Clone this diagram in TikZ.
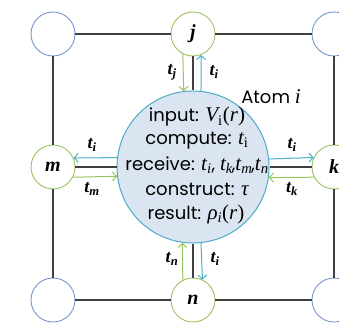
\documentclass[tikz,border=0pt]{standalone}
\usepackage{fontspec}
\setmainfont{Liberation Serif}
\newfontfamily\tms{Liberation Serif}
\newfontfamily\gothic{Poppins}
\usetikzlibrary{arrows.meta}
\definecolor{cornerblue}{RGB}{120,150,205}
\definecolor{nbgreen}{RGB}{155,195,95}
\definecolor{tealc}{RGB}{75,172,198}
\definecolor{bigfill}{RGB}{219,229,241}
\definecolor{gridc}{RGB}{64,64,64}
\newcommand\tvsz{\fontsize{21}{21}\selectfont}
\newcommand\sv[2]{{\tms\tvsz\itshape #1}{\tms\tvsz\textsubscript{#2}}}
\newcommand\svi[2]{{\tms\itshape #1}{\tms\textsubscript{\itshape #2}}}
\newcommand\tsvi[2]{{\tms\tvsz\itshape #1\textsubscript{#2}}}
\newcommand\iv[1]{{\tms\tvsz\itshape #1}}
\newcommand\argr{{\tms\tvsz(\textit{r})}}
\begin{document}
\begin{tikzpicture}[x=1pt,y=-1pt,
  corner/.style={circle,draw=cornerblue,line width=0.9pt,minimum size=44pt,inner sep=0pt},
  nb/.style={circle,draw=nbgreen,line width=0.9pt,minimum size=44pt,inner sep=0pt,font=\tms\bfseries\itshape\fontsize{20}{20}\selectfont},
  atom/.style={circle,draw=tealc,fill=bigfill,line width=1pt,minimum size=152pt,inner sep=0pt},
  gridline/.style={gridc,line width=1.2pt},
  link/.style={gridc,line width=1.8pt},
  garr/.style={nbgreen,line width=1pt,-{Straight Barb[length=4pt,width=9pt]}},
  tarr/.style={tealc,line width=1pt,-{Straight Barb[length=4pt,width=9pt]}},
  lab/.style={font=\tms\bfseries\itshape\fontsize{18}{18}\selectfont,inner sep=0pt},
  txt/.style={font=\gothic\fontsize{18}{18}\selectfont,inner sep=0pt}
]
\useasboundingbox (0,0) rectangle (339,323);
\node[corner] (tl) at (53,34) {};
\node[corner] (tr) at (334,34) {};
\node[corner] (bl) at (53,300) {};
\node[corner] (br) at (334,300) {};
\node[nb] (j) at (193,34) {j};
\node[nb] (m) at (53,167) {m};
\node[nb] (k) at (334,167) {k};
\node[nb] (n) at (193,300) {n};
\node[atom] (big) at (193,167) {};
% grid
\draw[gridline] (tl) -- (j);
\draw[gridline] (j) -- (tr);
\draw[gridline] (bl) -- (n);
\draw[gridline] (n) -- (br);
\draw[gridline] (tl) -- (m);
\draw[gridline] (m) -- (bl);
\draw[gridline] (tr) -- (k);
\draw[gridline] (k) -- (br);
% links
\draw[link] (j) -- (big);
\draw[link] (n) -- (big);
\draw[link] (m) -- (big);
\draw[link] (k) -- (big);
% arrows top
\draw[garr] (j.243) -- (big.97.6);
\draw[tarr] (big.84) -- (j.291.3);
% bottom
\draw[garr] (n.117) -- (big.262.4);
\draw[tarr] (big.276.8) -- (n.65.9);
% left
\draw[tarr] (big.173.2) -- (m.24.1);
\draw[garr] (m.333) -- (big.187.6);
% right
\draw[tarr] (big.6.8) -- (k.155.9);
\draw[garr] (k.207) -- (big.352.4);
% labels
\node[lab] (l1) at (172,72) {\svi{t}{j}};
\node[lab] (l2) at (214,72) {\svi{t}{i}};
\node[lab] (l3) at (92,145) {\svi{t}{i}};
\node[lab] (l4) at (92,189) {\svi{t}{m}};
\node[lab] (l5) at (292,145) {\svi{t}{i}};
\node[lab] (l6) at (292,189) {\svi{t}{k}};
\node[lab] (l7) at (172,259) {\svi{t}{n}};
\node[lab] (l8) at (215,259) {\svi{t}{i}};
% text
\node[txt] (atomi) at (271,97) {Atom {\tms\itshape\fontsize{21}{21}\selectfont i}};
\node[txt] (t1) at (197,117) {input: \sv{V}{i}\argr};
\node[txt] (t2) at (197,141) {compute: \sv{t}{i}};
\node[txt] (t3) at (197,165) {receive: \tsvi{t}{i}, \tsvi{t}{k}\hspace{-1pt},\tsvi{t}{m}\hspace{-1pt},\tsvi{t}{n}};
\node[txt] (t4) at (197,189) {construct: \iv{τ}};
\node[txt] (t5) at (196,214) {result: \tsvi{ρ}{i}\argr};
\end{tikzpicture}
\end{document}
